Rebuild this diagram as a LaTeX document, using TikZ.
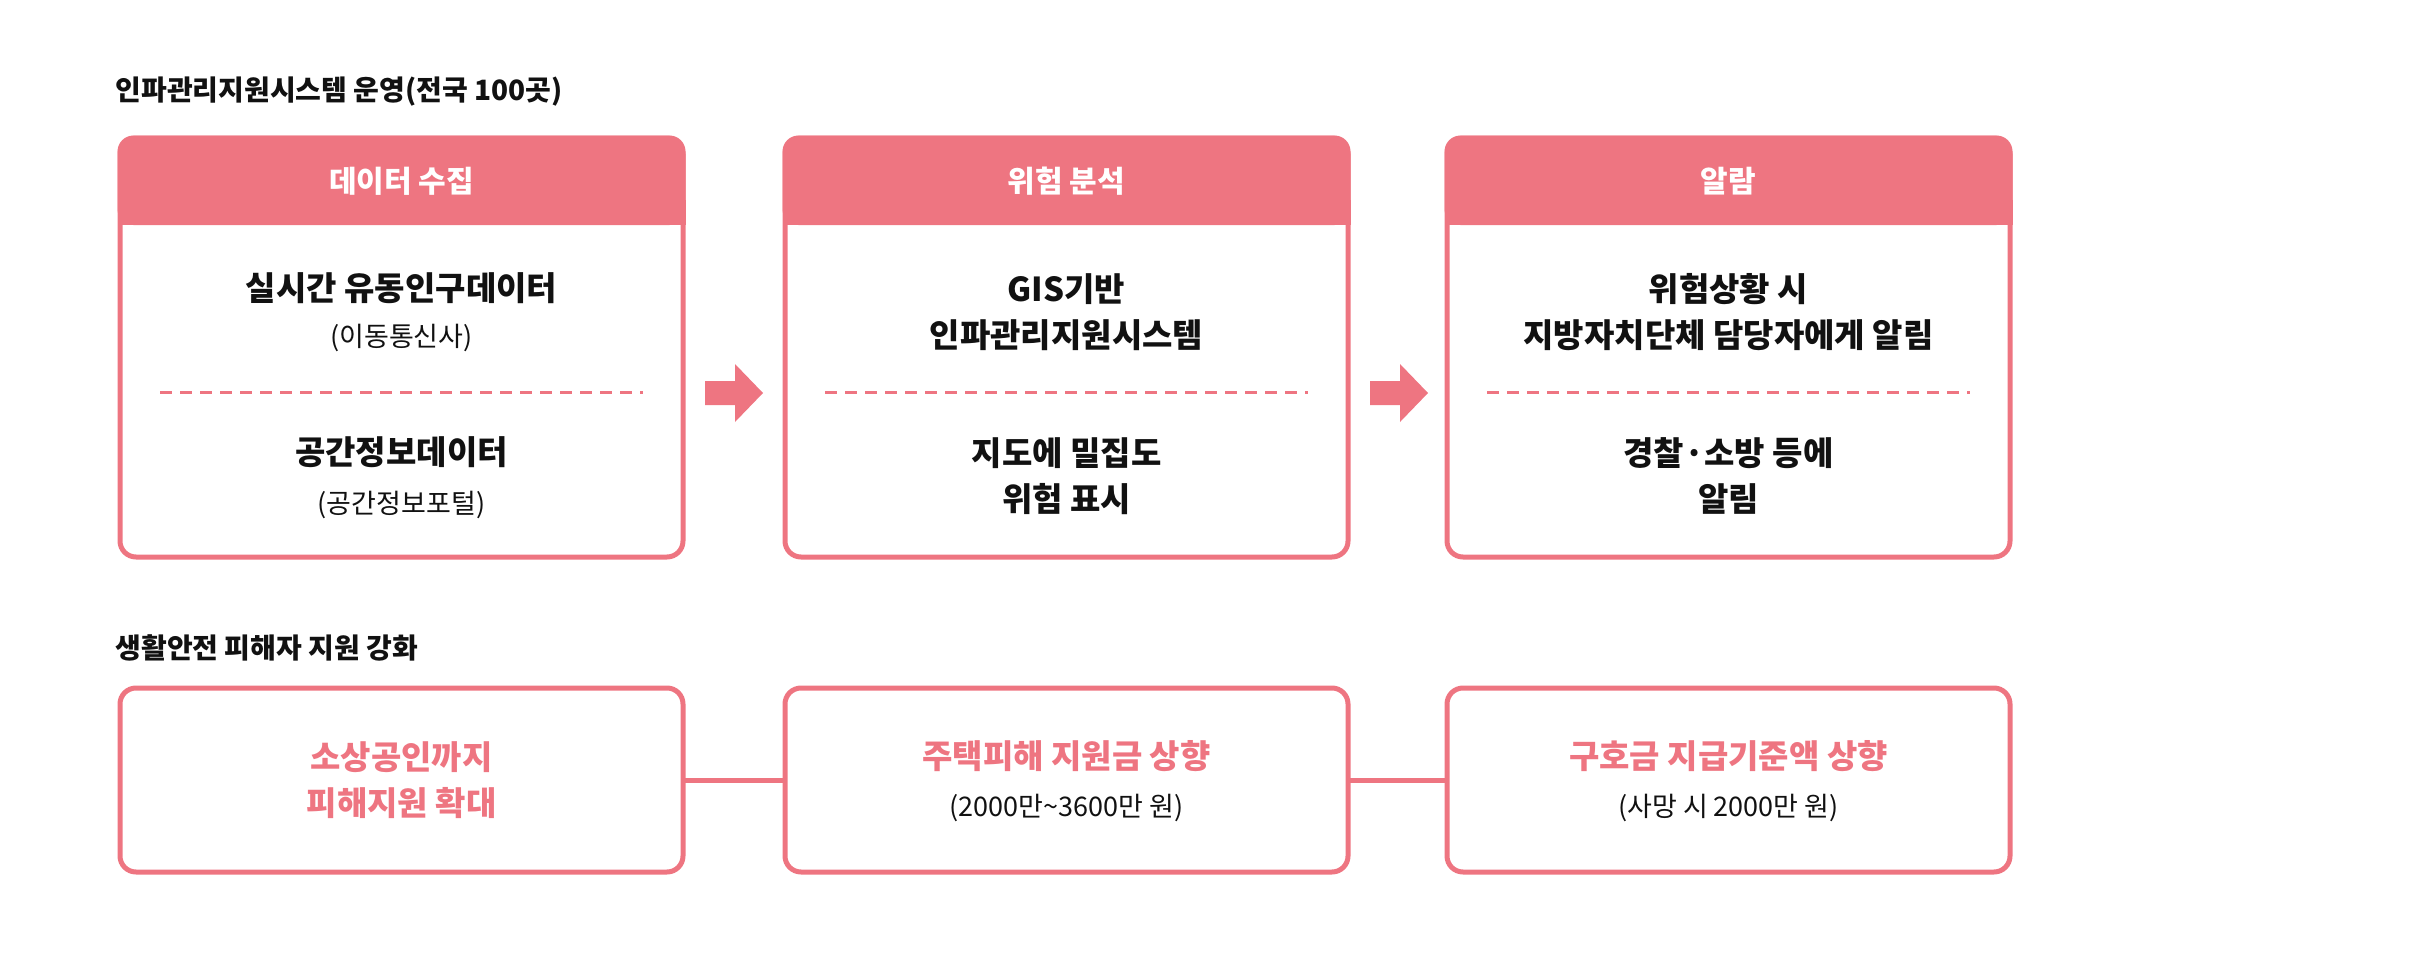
\documentclass[tikz,border=0pt]{standalone}
\usepackage{fontspec}
\setmainfont{Noto Sans CJK KR}
\definecolor{pk}{HTML}{EE7581}
\definecolor{tx}{HTML}{111111}
\begin{document}
\begin{tikzpicture}[x=1pt,y=-1pt,
 box/.style={draw=pk,line width=5pt,rounded corners=16pt},
 hd/.style={font=\fontsize{30}{36}\selectfont\bfseries,text=white},
 mt/.style={font=\fontsize{33}{46}\selectfont\bfseries,text=tx,align=center},
 st/.style={font=\fontsize{27}{34}\selectfont,text=tx},
 pt/.style={font=\fontsize{33}{46}\selectfont\bfseries,text=pk,align=center},
 ttl/.style={font=\fontsize{28}{34}\selectfont\bfseries,text=tx,anchor=west},
 dl/.style={draw=pk,line width=3pt,dash pattern=on 12pt off 8pt}]
\useasboundingbox (0,0) rectangle (2421,953);
\node[ttl] (t1) at (112,92) {인파관리지원시스템 운영(전국 100곳)};
\node[ttl] (t2) at (112,648) {생활안전 피해자 지원 강화};
\foreach \i/\x in {1/120,2/785,3/1447}{
 \fill[pk,rounded corners=16pt] (\x-2.5,135.5) rectangle (\x+565.5,225);
 \fill[pk] (\x-2.5,200) rectangle (\x+565.5,225);
 \draw[box] (\x,138) rectangle (\x+563,557);
 \coordinate (h\i) at (\x+281.5,181);
 \draw[dl] (\x+40,392) -- (\x+523,392);
 \draw[box] (\x,688) rectangle (\x+563,872);
 \coordinate (L\i) at (\x,780); \coordinate (R\i) at (\x+563,780);
}
\node[hd] (hh1) at (h1) {데이터 수집};
\node[hd] (hh2) at (h2) {위험 분석};
\node[hd] (hh3) at (h3) {알람};
\node[mt] (a1) at (401.5,288) {실시간 유동인구데이터};
\node[st] (a2) at (401.5,338) {(이동통신사)};
\node[mt] (a3) at (401.5,452) {공간정보데이터};
\node[st] (a4) at (401.5,505) {(공간정보포털)};
\node[mt] (b1) at (1066.5,312) {GIS기반\\인파관리지원시스템};
\node[mt] (b2) at (1066.5,476) {지도에 밀집도\\위험 표시};
\node[mt] (d1) at (1728.5,312) {위험상황 시\\지방자치단체 담당자에게 알림};
\node[mt] (d2) at (1728.5,476) {경찰·소방 등에\\알림};
\foreach \x in {705,1370}{
 \fill[pk] (\x,381) -- (\x+30,381) -- (\x+30,364) -- (\x+58,393) -- (\x+30,422) -- (\x+30,405) -- (\x,405) -- cycle;}
\node[pt] (p1) at (401.5,780) {소상공인까지\\피해지원 확대};
\node[pt] (p2) at (1066.5,756) {주택피해 지원금 상향};
\node[st] (p2s) at (1066.5,808) {(2000만\textasciitilde3600만 원)};
\node[pt] (p3) at (1728.5,756) {구호금 지급기준액 상향};
\node[st] (p3s) at (1728.5,808) {(사망 시 2000만 원)};
\draw[pk,line width=5pt] (R1) -- (L2);
\draw[pk,line width=5pt] (R2) -- (L3);
\end{tikzpicture}
\end{document}
